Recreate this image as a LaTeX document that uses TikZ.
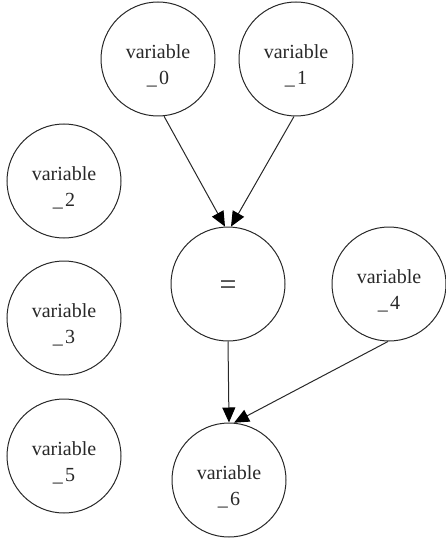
\documentclass[tikz,border=0pt]{standalone}
\usepackage{fontspec}
\setmainfont{Liberation Serif}
\usetikzlibrary{arrows.meta}
\definecolor{ink}{RGB}{40,40,40}
% two-line caption of a variable node, set a little below the centre
\newcommand{\varcap}[1]{\rule{0pt}{27pt}variable\\\_\hspace{2.5pt}#1}
\begin{document}
\begin{tikzpicture}[x=1pt,y=-1pt,
  var/.style={circle,draw=ink,line width=1pt,minimum size=114pt,inner sep=0pt,
    align=center,text=ink,font=\fontsize{20}{26}\selectfont},
  edge/.style={draw=ink,line width=1pt,
    -{Triangle[length=15pt,width=13pt,fill=black,color=black]}}]
\useasboundingbox (0,0) rectangle (446,540);
% variables of the graph
\node[var] (v0) at (158,59)  {\varcap{0}};
\node[var] (v1) at (296,59)  {\varcap{1}};
\node[var] (v2) at (64,181)  {\varcap{2}};
\node[var] (v3) at (64,318)  {\varcap{3}};
\node[var] (v5) at (64,456)  {\varcap{5}};
\node[var] (v4) at (389,284) {\varcap{4}};
\node[var] (v6) at (229,480) {\varcap{6}};
% equality operator
\node[var,font=\fontsize{30}{30}\selectfont] (eq) at (228,284) {\rule{0pt}{20pt}=};
% dependencies
\draw[edge] (v0.-84) -- (eq.93);
\draw[edge] (v1.-92) -- (eq.87);
\draw[edge] (eq.south) -- (v6.90);
\draw[edge] (v4.-91) -- (v6.85);
\end{tikzpicture}
\end{document}
